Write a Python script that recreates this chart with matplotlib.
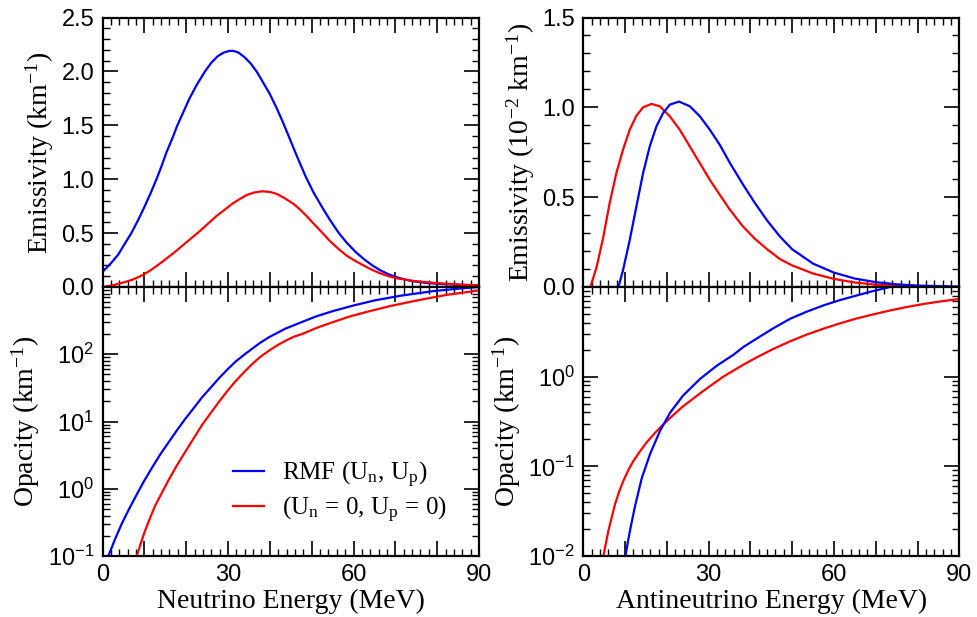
import numpy as np
import matplotlib
matplotlib.use("Agg")
import matplotlib.pyplot as plt
from matplotlib.ticker import MultipleLocator, FixedLocator, LogLocator, NullFormatter

plt.rcParams['font.family'] = ['Liberation Sans', 'DejaVu Sans']
plt.rcParams['mathtext.fontset'] = 'stix'

# --- neutrino emissivity (km^-1) ---
nu_em_rmf_x = [0, 2, 3.75, 5.3, 6.9, 8.5, 10.1, 11.5, 12.9, 14.1, 15.3, 16.6, 17.9, 19.3, 20.8, 22.6,
               24.5, 26, 27.5, 29, 30.3, 31.3, 32.5, 34, 35.5, 37, 38.5, 40, 41.5, 43, 44.5, 46.4,
               48.5, 50.4, 52.5, 54.4, 56.5, 58.4, 60.5, 62.6, 64.5, 66.4, 68.4, 70.4, 72.4, 74.4,
               78, 82.4, 86, 90]
nu_em_rmf_y = [0.14, 0.22, 0.30, 0.40, 0.50, 0.62, 0.75, 0.87, 1.00, 1.12, 1.25, 1.37, 1.50, 1.62, 1.75, 1.88,
               2.00, 2.08, 2.14, 2.175, 2.19, 2.19, 2.175, 2.13, 2.07, 1.99, 1.89, 1.79, 1.67, 1.54, 1.40, 1.22,
               1.03, 0.88, 0.74, 0.62, 0.50, 0.41, 0.325, 0.255, 0.20, 0.155, 0.118, 0.09, 0.068, 0.052,
               0.035, 0.025, 0.019, 0.015]
nu_em_free_x = [0, 2, 3.35, 5.3, 7.3, 9.3, 11.3, 13.3, 15.3, 17.3, 19.3, 21.3, 23.3, 25.3, 27.3, 29.3,
                31.3, 33, 34.5, 36.3, 38.1, 40, 41.7, 43.5, 45.7, 47.2, 49, 50.4, 52.5, 54.4, 56.5,
                58.4, 60.5, 62.6, 64.5, 66.4, 68.4, 70.4, 74.4, 78, 82.4, 86, 90]
nu_em_free_y = [0, 0.012, 0.025, 0.045, 0.07, 0.105, 0.15, 0.205, 0.264, 0.325, 0.39, 0.455, 0.52, 0.59, 0.66, 0.72,
                0.78, 0.82, 0.854, 0.877, 0.888, 0.882, 0.863, 0.825, 0.77, 0.72, 0.65, 0.59, 0.505, 0.425, 0.35,
                0.29, 0.24, 0.196, 0.158, 0.127, 0.10, 0.08, 0.056, 0.042, 0.03, 0.021, 0.015]

# --- antineutrino emissivity (10^-2 km^-1) ---
anu_em_rmf_x = [8.4, 9.5, 11.1, 12.7, 14.3, 15.9, 17.5, 19.1, 20.7, 22.9, 25.5, 27.9, 30.3, 32.7, 35.1,
                38.1, 41, 44, 47.1, 50, 55, 60, 65, 70, 75, 80, 90]
anu_em_rmf_y = [0, 0.093, 0.26, 0.447, 0.633, 0.782, 0.894, 0.968, 1.015, 1.032, 1.006, 0.95, 0.875, 0.79, 0.69,
                0.575, 0.47, 0.37, 0.28, 0.21, 0.13, 0.08, 0.047, 0.027, 0.015, 0.008, 0.002]
anu_em_free_x = [1.7, 3.2, 4.8, 6.3, 7.9, 9.5, 11.1, 12.7, 14.3, 16.3, 18.3, 20.7, 23.1, 25.5, 27.9, 30.3,
                 32.7, 35.1, 38.1, 41, 44, 47.1, 50, 55, 60, 65, 70, 80, 90]
anu_em_free_y = [0, 0.112, 0.28, 0.466, 0.633, 0.764, 0.875, 0.953, 1.0, 1.019, 1.006, 0.95, 0.875, 0.782, 0.689, 0.596,
                 0.512, 0.43, 0.34, 0.27, 0.21, 0.155, 0.12, 0.075, 0.045, 0.025, 0.013, 0.004, 0.001]

# --- neutrino opacity (km^-1) ---
nu_op_rmf_x = [1.4, 3, 4.6, 6.2, 7.8, 9.8, 11.8, 13.8, 15.8, 17.8, 19.8, 21.8, 23.8, 25.8, 27.8, 29.8,
               31.8, 33.8, 35.7, 37.7, 39.7, 43.7, 47.7, 51.2, 55, 60, 65, 71.2, 79.2, 85, 90]
nu_op_rmf_y = [0.1, 0.178, 0.302, 0.479, 0.741, 1.26, 2.04, 3.24, 4.90, 7.41, 11.0, 15.8, 22.9, 31.6, 43.7, 58.9,
               77.6, 97.7, 120, 148, 178, 240, 302, 368, 437, 531, 631, 741, 871, 944, 1000]
nu_op_free_x = [8.2, 9.2, 10.2, 11.4, 12.6, 14.2, 15.8, 17.8, 19.8, 21.8, 23.8, 25.8, 27.8, 29.8, 31.8,
                33.8, 35.7, 37.7, 39.7, 41.7, 43.7, 45.7, 47.7, 51.5, 55.2, 59, 63.2, 69, 75.2, 82, 90]
nu_op_free_y = [0.1, 0.158, 0.240, 0.372, 0.562, 0.871, 1.35, 2.24, 3.55, 5.62, 8.91, 13.2, 19.5, 28.2, 39.8,
                53.7, 70.8, 91.2, 112, 135, 158, 182, 200, 251, 302, 363, 427, 525, 631, 759, 891]

# --- antineutrino opacity (km^-1) ---
anu_op_rmf_x = [10.1, 10.6, 11.2, 12.4, 14.0, 16.0, 18.4, 20.8, 23.9, 27.9, 31.9, 35.9, 38.3, 41.5, 45.5,
                49.5, 53.5, 57.5, 61.5, 65.4, 69.4, 73.4, 75]
anu_op_rmf_y = [0.01, 0.0138, 0.0195, 0.0363, 0.0741, 0.138, 0.251, 0.398, 0.617, 0.94, 1.32, 1.75, 2.14, 2.66, 3.47,
                4.42, 5.31, 6.24, 7.16, 8.04, 9.02, 10.0, 10.4]
anu_op_free_x = [4.8, 5.4, 6.0, 6.8, 7.6, 8.6, 9.6, 10.8, 12.0, 13.6, 15.2, 17.2, 19.2, 21.5, 23.9, 26.3,
                 28.7, 31.1, 33.5, 38.3, 41.5, 45.5, 49.5, 53.5, 57.5, 61.5, 65.4, 69.4, 73.4, 77.4, 81.4, 85.7, 90]
anu_op_free_y = [0.01, 0.0138, 0.0191, 0.0269, 0.038, 0.0525, 0.0692, 0.0912, 0.115, 0.148, 0.186, 0.237, 0.295,
                 0.372, 0.468, 0.569, 0.692, 0.832, 1.0, 1.36, 1.64, 2.04, 2.48, 2.95, 3.43, 3.94, 4.45, 4.95,
                 5.47, 5.98, 6.46, 6.92, 7.35]

labels = ['RMF (U$_{\\mathdefault{n}}$, U$_{\\mathdefault{p}}$)',
          '(U$_{\\mathdefault{n}}$ = 0, U$_{\\mathdefault{p}}$ = 0)']

serif = ['Liberation Serif', 'DejaVu Serif']
W, H = 977, 617
fig = plt.figure(figsize=(W / 100, H / 100), dpi=100)

def rect(x0, x1, y0, y1):
    return [x0 / W, 1 - y1 / H, (x1 - x0) / W, (y1 - y0) / H]

ax_tl = fig.add_axes(rect(102.5, 479, 17.5, 287))
ax_bl = fig.add_axes(rect(102.5, 479, 287, 556), sharex=ax_tl)
ax_tr = fig.add_axes(rect(583.3, 959.3, 17.5, 287))
ax_br = fig.add_axes(rect(583.3, 959.3, 287, 556), sharex=ax_tr)

lw = 1.6
ax_tl.plot(nu_em_rmf_x, nu_em_rmf_y, color='#0000ff', lw=lw)
ax_tl.plot(nu_em_free_x, nu_em_free_y, color='#ff0000', lw=lw)
ax_bl.plot(nu_op_rmf_x, nu_op_rmf_y, color='#0000ff', lw=lw, label=labels[0])
ax_bl.plot(nu_op_free_x, nu_op_free_y, color='#ff0000', lw=lw, label=labels[1])
ax_tr.plot(anu_em_free_x, anu_em_free_y, color='#ff0000', lw=lw)
ax_tr.plot(anu_em_rmf_x, anu_em_rmf_y, color='#0000ff', lw=lw)
ax_br.plot(anu_op_free_x, anu_op_free_y, color='#ff0000', lw=lw)
ax_br.plot(anu_op_rmf_x, anu_op_rmf_y, color='#0000ff', lw=lw)

for ax in (ax_tl, ax_bl, ax_tr, ax_br):
    ax.set_xlim(0, 90)
    ax.xaxis.set_major_locator(MultipleLocator(10))
    ax.xaxis.set_minor_locator(MultipleLocator(2))
    ax.tick_params(which='both', direction='in', top=True, right=True, labelsize=17, pad=6)
    ax.tick_params(which='major', length=10.5, width=1.2)
    ax.tick_params(which='minor', length=5, width=1.0)
    for s in ax.spines.values():
        s.set_linewidth(1.6)

def xfmt(v, pos):
    return '%d' % v if v % 30 == 0 else ''

for ax in (ax_bl, ax_br):
    ax.xaxis.set_major_formatter(plt.FuncFormatter(xfmt))
for ax in (ax_tl, ax_tr):
    ax.tick_params(labelbottom=False)

ax_tl.set_ylim(0, 2.5)
ax_tl.yaxis.set_major_locator(MultipleLocator(0.5))
ax_tl.yaxis.set_minor_locator(MultipleLocator(0.1))
ax_tl.yaxis.set_major_formatter(plt.FormatStrFormatter('%.1f'))
ax_tr.set_ylim(0, 1.5)
ax_tr.yaxis.set_major_locator(MultipleLocator(0.5))
ax_tr.yaxis.set_minor_locator(MultipleLocator(0.1))
ax_tr.yaxis.set_major_formatter(plt.FormatStrFormatter('%.1f'))

ax_bl.set_yscale('log')
ax_bl.set_ylim(0.1, 1000)
ax_bl.yaxis.set_major_locator(FixedLocator([0.1, 1, 10, 100, 1000]))
ax_br.set_yscale('log')
ax_br.set_ylim(0.01, 10)
ax_br.yaxis.set_major_locator(FixedLocator([0.01, 0.1, 1, 10]))

def logfmt(top):
    def f(v, pos):
        if v >= top:
            return ''
        return '$\\mathdefault{10^{%d}}$' % int(round(np.log10(v)))
    return plt.FuncFormatter(f)

ax_bl.yaxis.set_major_formatter(logfmt(1000))
ax_br.yaxis.set_major_formatter(logfmt(10))
for ax in (ax_bl, ax_br):
    ax.yaxis.set_minor_locator(LogLocator(base=10, subs=np.arange(2, 10), numticks=20))
    ax.yaxis.set_minor_formatter(NullFormatter())

fs = 20
ax_tl.set_ylabel('Emissivity (km$^{\\mathdefault{-1}}$)', family=serif, fontsize=fs)
ax_bl.set_ylabel('Opacity (km$^{\\mathdefault{-1}}$)', family=serif, fontsize=fs)
ax_tr.set_ylabel('Emissivity (10$^{\\mathdefault{-2}}$ km$^{\\mathdefault{-1}}$)', family=serif, fontsize=fs)
ax_br.set_ylabel('Opacity (km$^{\\mathdefault{-1}}$)', family=serif, fontsize=fs)
ax_bl.set_xlabel('Neutrino Energy (MeV)', family=serif, fontsize=fs, labelpad=2)
ax_br.set_xlabel('Antineutrino Energy (MeV)', family=serif, fontsize=fs, labelpad=2)

ax_bl.legend(loc='center left', bbox_to_anchor=(0.347, 0.238), frameon=False,
             prop={'family': serif, 'size': 18}, handlelength=1.25, handletextpad=0.7,
             labelspacing=0.2, borderpad=0, borderaxespad=0)

fig.savefig('out.png', dpi=100)
